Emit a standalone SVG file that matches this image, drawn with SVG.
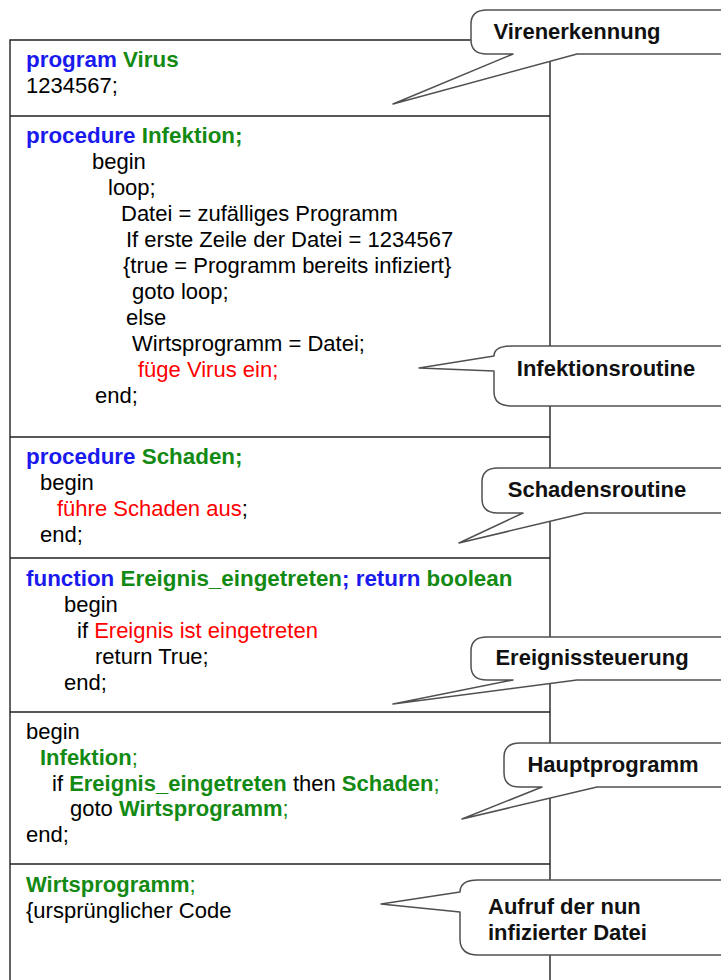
<svg xmlns="http://www.w3.org/2000/svg" width="721" height="980" viewBox="0 0 721 980">
<style>
.c{font-family:"Liberation Sans",Arial,sans-serif;font-size:22px;fill:#000}
.b{font-weight:bold}
.h{font-size:22.4px}
.bl{fill:#1a1aee}
.gr{fill:#138a13}
.rd{fill:#ff0000}
.frame{stroke:#222;stroke-width:1.4;fill:none}
.co{fill:#fff;stroke:#505050;stroke-width:1.5;stroke-linejoin:round}
.lab{font-family:"Liberation Sans",Arial,sans-serif;font-size:22px;font-weight:bold;fill:#111}
</style>
<rect width="721" height="980" fill="#fff"/>
<g id="frame">
<path class="frame" d="M10,980 V40 H550 V980 M10,116 H550 M10,437 H550 M10,558 H550 M10,712 H550 M10,864 H550"/>
</g>
<g id="block-program">
<text class="c b h" x="26" y="67"><tspan class="bl">program </tspan><tspan class="gr">Virus</tspan></text>
<text class="c" x="26" y="93">1234567;</text>
</g>
<g id="block-infektion">
<text class="c b h" x="26" y="143"><tspan class="bl">procedure </tspan><tspan class="gr">Infektion;</tspan></text>
<text class="c" x="92" y="169">begin</text>
<text class="c" x="108" y="195">loop;</text>
<text class="c" x="121" y="221">Datei = zufälliges Programm</text>
<text class="c" x="126" y="247">If erste Zeile der Datei = 1234567</text>
<text class="c" x="123" y="273">{true = Programm bereits infiziert}</text>
<text class="c" x="132" y="299">goto loop;</text>
<text class="c" x="126" y="325">else</text>
<text class="c" x="132" y="351">Wirtsprogramm = Datei;</text>
<text class="c rd" x="138" y="377">füge Virus ein;</text>
<text class="c" x="95" y="403">end;</text>
</g>
<g id="block-schaden">
<text class="c b h" x="26" y="464"><tspan class="bl">procedure </tspan><tspan class="gr">Schaden;</tspan></text>
<text class="c" x="40" y="490">begin</text>
<text class="c" x="57" y="516"><tspan class="rd">führe Schaden aus</tspan>;</text>
<text class="c" x="40" y="542">end;</text>
</g>
<g id="block-ereignis">
<text class="c b h" x="26" y="586"><tspan class="bl">function </tspan><tspan class="gr">Ereignis_eingetreten</tspan><tspan class="bl">; return </tspan><tspan class="gr">boolean</tspan></text>
<text class="c" x="64" y="612">begin</text>
<text class="c" x="77" y="638">if <tspan class="rd">Ereignis ist eingetreten</tspan></text>
<text class="c" x="95" y="664">return True;</text>
<text class="c" x="64" y="690">end;</text>
</g>
<g id="block-haupt">
<text class="c" x="26" y="739">begin</text>
<text class="c" x="40" y="765"><tspan class="gr b">Infektion</tspan><tspan class="gr">;</tspan></text>
<text class="c" x="52" y="791">if <tspan class="gr b">Ereignis_eingetreten</tspan> then <tspan class="gr b">Schaden</tspan><tspan class="gr">;</tspan></text>
<text class="c" x="70" y="816">goto <tspan class="gr b">Wirtsprogramm</tspan><tspan class="gr">;</tspan></text>
<text class="c" x="26" y="842">end;</text>
</g>
<g id="block-wirt">
<text class="c" x="26" y="892"><tspan class="gr b">Wirtsprogramm</tspan><tspan class="gr">;</tspan></text>
<text class="c" x="26" y="918">{ursprünglicher Code</text>
</g>
<g id="callouts">
<g id="callout-virenerkennung">
<path class="co" d="M735,10 H487 Q471,10 471,24 V40 Q471,54 487,54 H513 L393,104 L577,54 H735"/>
<text class="lab" x="577" y="39" text-anchor="middle">Virenerkennung</text>
</g>
<g id="callout-infektionsroutine">
<path class="co" d="M735,346 H512 Q494,346 494,356 L419,368 L494,371 V392 Q494,406 512,406 H735"/>
<text class="lab" x="606" y="376" text-anchor="middle">Infektionsroutine</text>
</g>
<g id="callout-schadensroutine">
<path class="co" d="M735,468 H498 Q482,468 482,482 V499 Q482,513 498,513 H523 L459,543 L585,513 H735"/>
<text class="lab" x="597" y="497" text-anchor="middle">Schadensroutine</text>
</g>
<g id="callout-ereignissteuerung">
<path class="co" d="M735,637 H487 Q471,637 471,651 V666 Q471,680 487,680 H513 L393,704 L577,680 H735"/>
<text class="lab" x="592" y="665" text-anchor="middle">Ereignissteuerung</text>
</g>
<g id="callout-hauptprogramm">
<path class="co" d="M735,743 H520 Q504,743 504,757 V773 Q504,787 520,787 H542 L462,819 L597,787 H735"/>
<text class="lab" x="613" y="772" text-anchor="middle">Hauptprogramm</text>
</g>
<g id="callout-aufruf">
<path class="co" d="M735,880 H478 Q460,880 460,892 L381,904 L460,912 V939 Q460,955 478,955 H735"/>
<text class="lab" x="488" y="914">Aufruf der nun</text>
<text class="lab" x="488" y="940">infizierter Datei</text>
</g>
</g>
</svg>
